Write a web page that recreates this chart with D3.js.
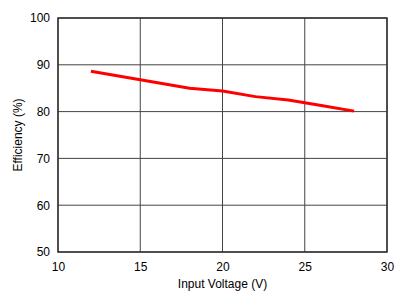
<!DOCTYPE html>
<html>
<head>
<meta charset="utf-8">
<script src="https://cdn.jsdelivr.net/npm/d3@7"></script>
<style>
  body { margin: 0; background: #fff; }
  svg { display: block; font-family: "Liberation Sans", Arial, sans-serif; }
  .tick text { font-size: 12px; fill: #000; }
  .axis-title { font-size: 12px; fill: #000; }
</style>
</head>
<body>
<svg id="chart" width="404" height="303"></svg>
<script>
// input voltage (V) and efficiency (%)
const voltage = [12, 15, 18, 20, 22, 24, 26, 28];
const efficiency = [88.6, 86.8, 85.0, 84.4, 83.2, 82.5, 81.3, 80.1];
const xTicks = [10, 15, 20, 25, 30];
const yTicks = [50, 60, 70, 80, 90, 100];

const svg = d3.select('#chart');
const plotLeft = 58, plotRight = 387, plotTop = 18, plotBottom = 252;

const x = d3.scaleLinear().domain([10, 30]).range([plotLeft, plotRight]);
const y = d3.scaleLinear().domain([50, 100]).range([plotBottom, plotTop]);

// grid
svg.append('g')
    .selectAll('line')
    .data(xTicks)
    .enter()
    .append('line')
    .attr('x1', d => x(d)).attr('x2', d => x(d))
    .attr('y1', plotTop).attr('y2', plotBottom)
    .attr('stroke', '#444').attr('stroke-width', 1);

svg.append('g')
    .selectAll('line')
    .data(yTicks)
    .enter()
    .append('line')
    .attr('x1', plotLeft).attr('x2', plotRight)
    .attr('y1', d => y(d)).attr('y2', d => y(d))
    .attr('stroke', '#444').attr('stroke-width', 1);

// frame
svg.append('rect')
    .attr('x', plotLeft).attr('y', plotTop)
    .attr('width', plotRight - plotLeft).attr('height', plotBottom - plotTop)
    .attr('fill', 'none').attr('stroke', '#333').attr('stroke-width', 1.5);

// axes (labels only)
const xAxis = d3.axisBottom(x).tickValues(xTicks).tickSize(0).tickPadding(10);
svg.append('g')
    .attr('transform', `translate(0,${plotBottom})`)
    .call(xAxis)
    .call(g => g.select('.domain').remove());

const yAxis = d3.axisLeft(y).tickValues(yTicks).tickSize(0).tickPadding(8);
svg.append('g')
    .attr('transform', `translate(${plotLeft},0)`)
    .call(yAxis)
    .call(g => g.select('.domain').remove());

// curve
const line = d3.line()
    .x((d, i) => x(voltage[i]))
    .y(d => y(d));

svg.append('path')
    .attr('d', line(efficiency))
    .attr('fill', 'none')
    .attr('stroke', '#ff0000')
    .attr('stroke-width', 3)
    .attr('stroke-linejoin', 'round');

// titles
svg.append('text')
    .attr('class', 'axis-title')
    .attr('x', (plotLeft + plotRight) / 2)
    .attr('y', 288)
    .attr('text-anchor', 'middle')
    .text('Input Voltage (V)');

svg.append('text')
    .attr('class', 'axis-title')
    .attr('transform', `translate(22,${(plotTop + plotBottom) / 2}) rotate(-90)`)
    .attr('text-anchor', 'middle')
    .text('Efficiency (%)');
</script>
</body>
</html>
